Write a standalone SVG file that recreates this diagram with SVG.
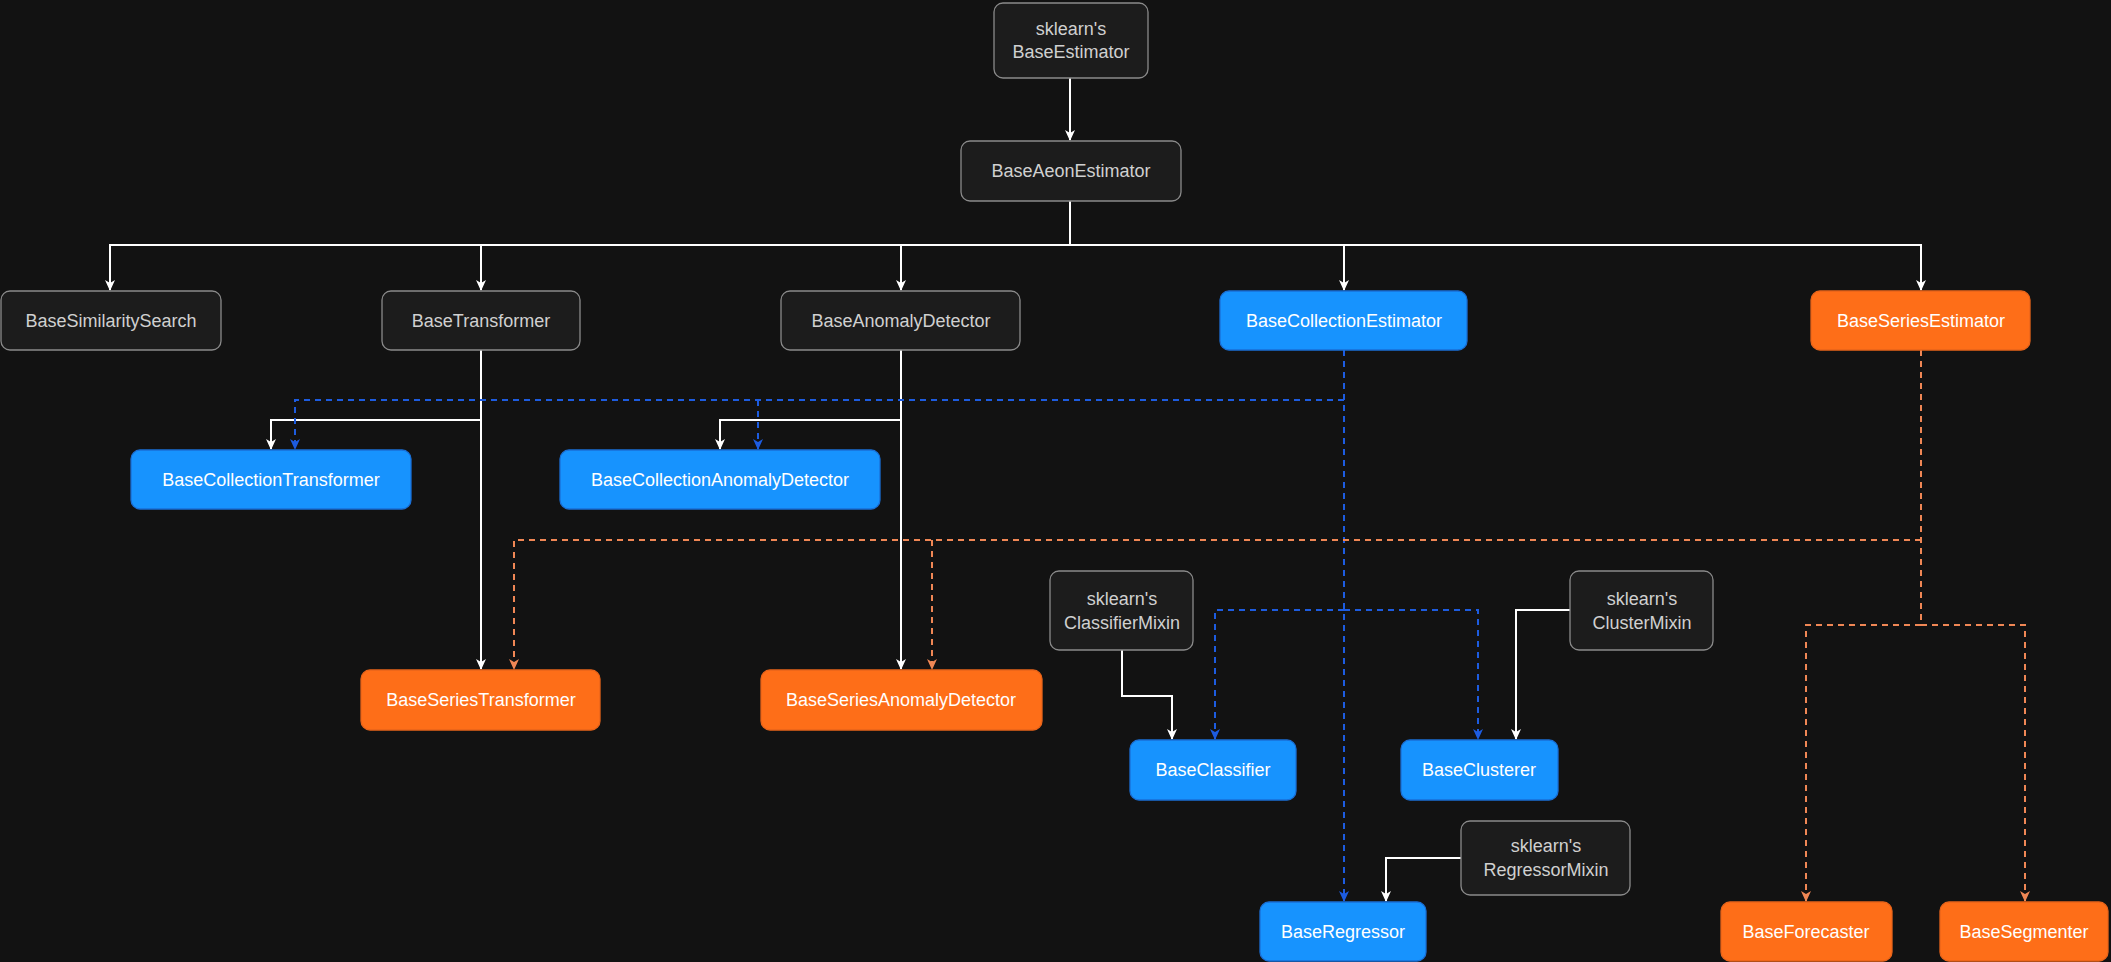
<svg xmlns="http://www.w3.org/2000/svg" width="2111" height="962" viewBox="0 0 2111 962">
<defs>
<style>
.n rect{rx:9;ry:9}
.d rect{fill:#1c1c1c;stroke:#8a8a8a;stroke-width:1.3}
.b rect{fill:#1793fe;stroke:#1a6fd6;stroke-width:1.3}
.o rect{fill:#fe6e18;stroke:#e8641a;stroke-width:1.3}
text{font-family:"Liberation Sans",Arial,sans-serif;font-size:18px;text-anchor:middle}
.d text{fill:#d0d0d0}
.b text,.o text{fill:#ffffff}
.w{fill:none;stroke:#ffffff;stroke-width:2}
.bl{fill:none;stroke:#1d5ce0;stroke-width:2;stroke-dasharray:6 5}
.or{fill:none;stroke:#f08755;stroke-width:2;stroke-dasharray:6 5}
</style>
<marker id="aw" markerWidth="12" markerHeight="12" refX="10" refY="6" orient="auto" markerUnits="userSpaceOnUse"><path d="M0,1 L11,6 L0,11 L3,6 Z" fill="#ffffff"/></marker>
<marker id="ab" markerWidth="12" markerHeight="12" refX="10" refY="6" orient="auto" markerUnits="userSpaceOnUse"><path d="M0,1 L11,6 L0,11 L3,6 Z" fill="#1d5ce0"/></marker>
<marker id="ao" markerWidth="12" markerHeight="12" refX="10" refY="6" orient="auto" markerUnits="userSpaceOnUse"><path d="M0,1 L11,6 L0,11 L3,6 Z" fill="#f08755"/></marker>
</defs>
<rect width="2111" height="962" fill="#121212"/>
<g id="connectors">
<path class="w" d="M1070,78 V140" marker-end="url(#aw)"/>
<path class="w" d="M1070,201 V245 H110 V290" marker-end="url(#aw)"/>
<path class="w" d="M481,245 V290" marker-end="url(#aw)"/>
<path class="w" d="M901,245 V290" marker-end="url(#aw)"/>
<path class="w" d="M1070,245 H1344 V290" marker-end="url(#aw)"/>
<path class="w" d="M1344,245 H1921 V290" marker-end="url(#aw)"/>
<path class="w" d="M481,350 V669" marker-end="url(#aw)"/>
<path class="w" d="M481,420 H271 V449" marker-end="url(#aw)"/>
<path class="w" d="M901,350 V669" marker-end="url(#aw)"/>
<path class="w" d="M901,420 H720 V449" marker-end="url(#aw)"/>
<path class="bl" d="M1344,350 V901" marker-end="url(#ab)"/>
<path class="bl" d="M1344,400 H295 V449" marker-end="url(#ab)"/>
<path class="bl" d="M758,400 V449" marker-end="url(#ab)"/>
<path class="bl" d="M1344,610 H1215 V739" marker-end="url(#ab)"/>
<path class="bl" d="M1344,610 H1478 V739" marker-end="url(#ab)"/>
<path class="or" d="M1921,350 V625" />
<path class="or" d="M1921,540 H514 V669" marker-end="url(#ao)"/>
<path class="or" d="M932,540 V669" marker-end="url(#ao)"/>
<path class="or" d="M1921,625 H1806 V901" marker-end="url(#ao)"/>
<path class="or" d="M1921,625 H2025 V901" marker-end="url(#ao)"/>
<path class="w" d="M1122,650 V696 H1172 V739" marker-end="url(#aw)"/>
<path class="w" d="M1570,610 H1516 V739" marker-end="url(#aw)"/>
<path class="w" d="M1461,858 H1386 V901" marker-end="url(#aw)"/>
</g>
<g id="n1" class="n d"><rect x="994" y="3" width="154" height="75"/><text x="1071" y="35">sklearn's</text><text x="1071" y="58">BaseEstimator</text></g>
<g id="n2" class="n d"><rect x="961" y="141" width="220" height="60"/><text x="1071" y="177">BaseAeonEstimator</text></g>
<g id="n3" class="n d"><rect x="1" y="291" width="220" height="59"/><text x="111" y="327">BaseSimilaritySearch</text></g>
<g id="n4" class="n d"><rect x="382" y="291" width="198" height="59"/><text x="481" y="327">BaseTransformer</text></g>
<g id="n5" class="n d"><rect x="781" y="291" width="239" height="59"/><text x="901" y="327">BaseAnomalyDetector</text></g>
<g id="n6" class="n b"><rect x="1220" y="291" width="247" height="59"/><text x="1344" y="327">BaseCollectionEstimator</text></g>
<g id="n7" class="n o"><rect x="1811" y="291" width="219" height="59"/><text x="1921" y="327">BaseSeriesEstimator</text></g>
<g id="n8" class="n b"><rect x="131" y="450" width="280" height="59"/><text x="271" y="486">BaseCollectionTransformer</text></g>
<g id="n9" class="n b"><rect x="560" y="450" width="320" height="59"/><text x="720" y="486">BaseCollectionAnomalyDetector</text></g>
<g id="n10" class="n o"><rect x="361" y="670" width="239" height="60"/><text x="481" y="706">BaseSeriesTransformer</text></g>
<g id="n11" class="n o"><rect x="761" y="670" width="281" height="60"/><text x="901" y="706">BaseSeriesAnomalyDetector</text></g>
<g id="n12" class="n d"><rect x="1050" y="571" width="143" height="79"/><text x="1122" y="605">sklearn's</text><text x="1122" y="629">ClassifierMixin</text></g>
<g id="n13" class="n d"><rect x="1570" y="571" width="143" height="79"/><text x="1642" y="605">sklearn's</text><text x="1642" y="629">ClusterMixin</text></g>
<g id="n14" class="n b"><rect x="1130" y="740" width="166" height="60"/><text x="1213" y="776">BaseClassifier</text></g>
<g id="n15" class="n b"><rect x="1401" y="740" width="157" height="60"/><text x="1479" y="776">BaseClusterer</text></g>
<g id="n16" class="n d"><rect x="1461" y="821" width="169" height="74"/><text x="1546" y="852">sklearn's</text><text x="1546" y="876">RegressorMixin</text></g>
<g id="n17" class="n b"><rect x="1260" y="902" width="166" height="59"/><text x="1343" y="938">BaseRegressor</text></g>
<g id="n18" class="n o"><rect x="1721" y="902" width="171" height="59"/><text x="1806" y="938">BaseForecaster</text></g>
<g id="n19" class="n o"><rect x="1940" y="902" width="168" height="59"/><text x="2024" y="938">BaseSegmenter</text></g>
</svg>
